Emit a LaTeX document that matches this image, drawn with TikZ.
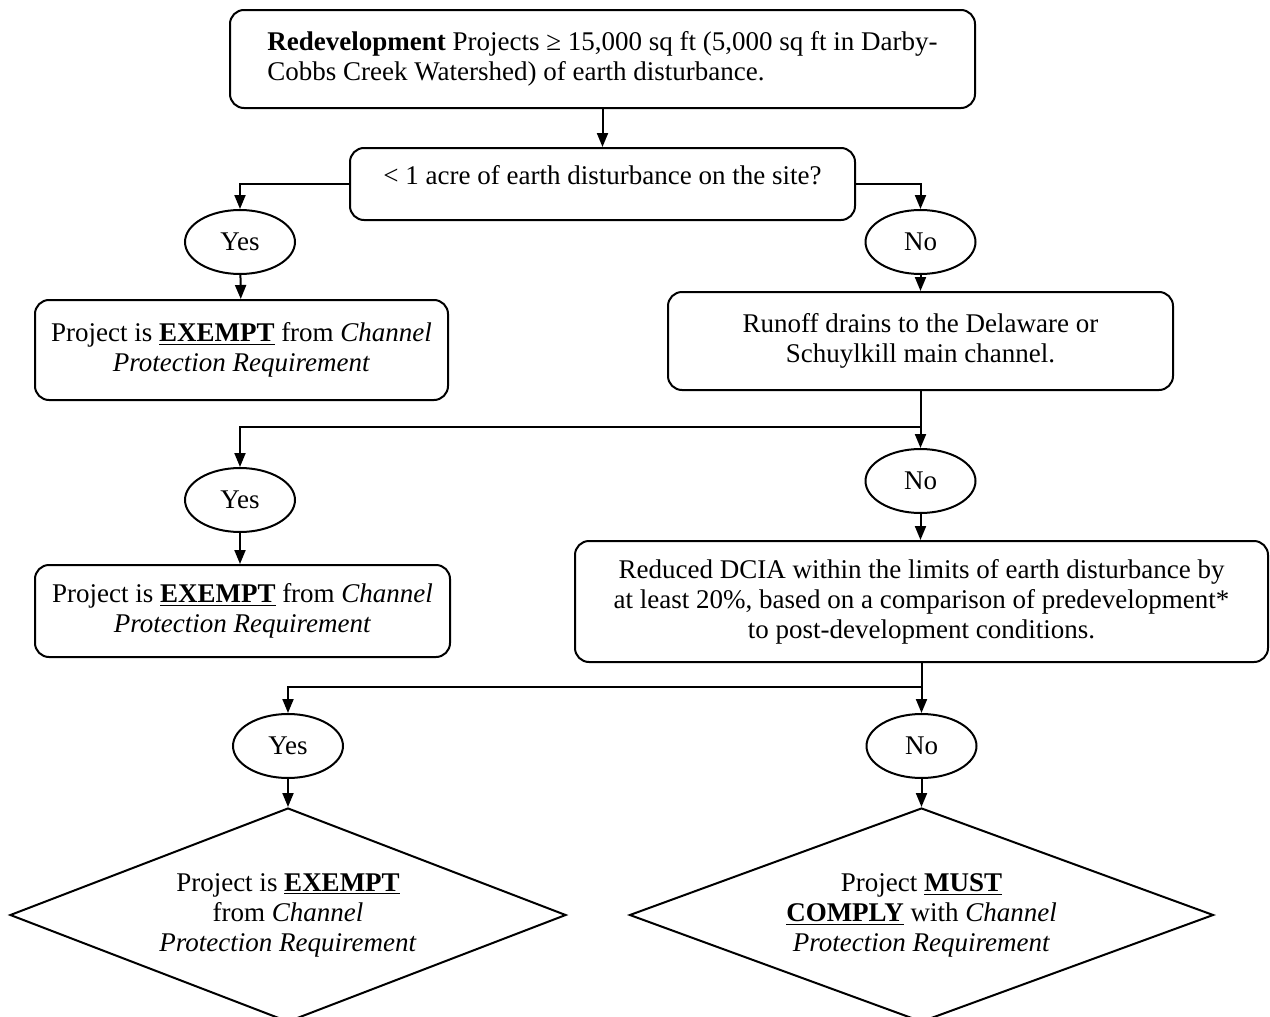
\documentclass[tikz,border=0pt]{standalone}
\usepackage{fontspec}
\setmainfont{Liberation Serif}
\usetikzlibrary{arrows.meta,shapes.geometric,positioning}

\begin{document}
\begin{tikzpicture}[x=0.5pt,y=0.5pt]
  \tikzstyle{every node}+=[font=\fontsize{13.5}{15}\selectfont]
  \tikzstyle{box}=[draw,line width=1pt,rounded corners=7pt,align=center,inner sep=0pt]
  \tikzstyle{oval}=[draw,ellipse,line width=1pt,minimum width=55pt,minimum height=32pt,inner sep=0pt]
  \tikzstyle{decision}=[draw,diamond,line width=1pt,minimum height=107pt,aspect=2.6,inner sep=0pt,align=center]
  \tikzstyle{arr}=[line width=1pt,-{Triangle[length=7pt,width=5.5pt]}]
  \clip (0,0) rectangle (1270,-1017);
  % boxes
  \node[box,minimum width=372.5pt,minimum height=49pt,align=left] (redev) at (602.5,-59) {\textbf{Redevelopment} Projects ≥ 15,000 sq ft (5,000 sq ft in Darby-\\Cobbs Creek Watershed) of earth disturbance.};
  \node[box,minimum width=252.5pt,minimum height=36pt,text depth=9pt] (ask) at (602.5,-184) {< 1 acre of earth disturbance on the site?};
  \node[box,minimum width=206.5pt,minimum height=50pt] (ex1) at (241.5,-350) {Project is \underline{\textbf{EXEMPT}} from \textit{Channel}\\\textit{Protection Requirement}};
  \node[box,minimum width=252.5pt,minimum height=49pt] (run) at (920.5,-341) {Runoff drains to the Delaware or\\Schuylkill main channel.};
  \node[box,minimum width=207.5pt,minimum height=46pt] (ex2) at (242.5,-611) {Project is \underline{\textbf{EXEMPT}} from \textit{Channel}\\\textit{Protection Requirement}};
  \node[box,minimum width=346.5pt,minimum height=60.5pt] (dcia) at (921.5,-601.5) {Reduced DCIA within the limits of earth disturbance by\\at least 20\%, based on a comparison of predevelopment*\\to post-development conditions.};
  % yes / no
  \node[oval] (yes1) at (240,-242) {Yes};
  \node[oval] (no1) at (920.5,-242) {No};
  \node[oval] (yes2) at (240,-500) {Yes};
  \node[oval] (no2) at (920.5,-481) {No};
  \node[oval] (yes3) at (288,-746) {Yes};
  \node[oval] (no3) at (921.5,-746) {No};
  % outcomes
  \node[decision,minimum width=278pt] (dyes) at (288,-915) {Project is \underline{\textbf{EXEMPT}}\\from \textit{Channel}\\\textit{Protection Requirement}};
  \node[decision,minimum width=292pt] (dno) at (921.5,-915) {Project \underline{\textbf{MUST}}\\\underline{\textbf{COMPLY}} with \textit{Channel}\\\textit{Protection Requirement}};
  \coordinate (fork1) at (920.5,-427);
  \coordinate (fork2) at (921.5,-687);
  % connectors
  \draw[arr] (redev) -- (ask);
  \draw[arr] (ask.west) -| (yes1.north);
  \draw[arr] (ask.east) -| (no1.north);
  \draw[arr] (yes1) -- (ex1);
  \draw[arr] (no1) -- (run);
  \draw[arr] (run) -- (no2);
  \draw[arr] (fork1) -| (yes2.north);
  \draw[arr] (yes2) -- (ex2.north -| yes2);
  \draw[arr] (no2) -- (dcia.north -| no2);
  \draw[arr] (dcia) -- (no3);
  \draw[arr] (fork2) -| (yes3.north);
  \draw[arr] (yes3) -- (dyes);
  \draw[arr] (no3) -- (dno);
\end{tikzpicture}
\end{document}
